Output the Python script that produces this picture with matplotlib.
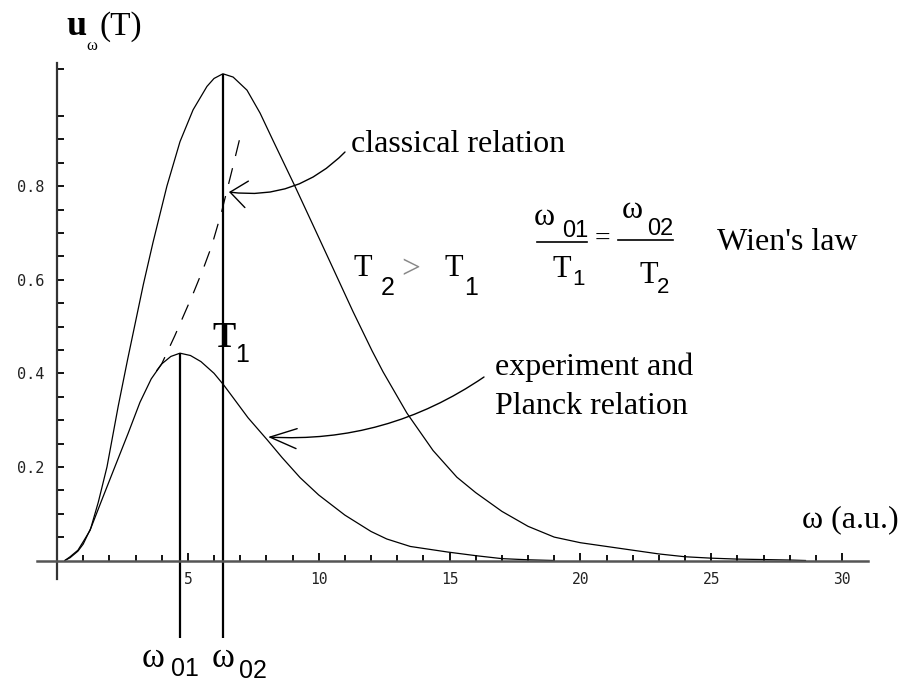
import numpy as np
import matplotlib
matplotlib.use("Agg")
import matplotlib.pyplot as plt
from matplotlib.ticker import FixedLocator

# ---- data ----
omega_T2 = [0.3, 0.5, 0.8, 1.0, 1.27, 1.58, 1.91, 2.34, 2.7, 3.0, 3.3, 3.67, 4.2, 4.7, 5.2, 5.73,
            6.0, 6.34, 6.73, 7.26, 7.76, 8.25, 8.79, 9.09, 9.78, 10.55, 11.31, 12.04, 12.46, 13.37,
            14.37, 15.28, 16.0, 17.0, 18.0, 19.0, 20.0, 21.0, 22.0, 23.0, 24.0, 25.0, 26.0, 27.0,
            28.0, 28.6]
u_T2 = [0.0, 0.008, 0.022, 0.04, 0.065, 0.125, 0.2, 0.33, 0.43, 0.51, 0.59, 0.68, 0.80, 0.895,
        0.963, 1.013, 1.03, 1.04, 1.033, 1.005, 0.956, 0.898, 0.835, 0.80, 0.717, 0.624, 0.532,
        0.448, 0.403, 0.315, 0.235, 0.178, 0.145, 0.105, 0.073, 0.05, 0.038, 0.03, 0.022, 0.014,
        0.008, 0.005, 0.003, 0.002, 0.001, 0.0]

omega_T1 = [0.3, 0.5, 0.8, 1.0, 1.3, 1.71, 2.21, 2.72, 3.17, 3.6, 4.0, 4.35, 4.7, 5.1, 5.5, 6.0,
            6.37, 6.73, 7.3, 8.03, 8.6, 9.29, 10.0, 11.0, 12.0, 12.6, 13.5, 14.94, 16.05, 17.0,
            18.0, 19.0]
u_T1 = [0.0, 0.006, 0.02, 0.035, 0.07, 0.129, 0.2, 0.272, 0.338, 0.388, 0.42, 0.436, 0.443, 0.438,
        0.425, 0.40, 0.375, 0.348, 0.305, 0.258, 0.22, 0.177, 0.14, 0.097, 0.062, 0.046, 0.03,
        0.018, 0.01, 0.004, 0.0015, 0.0]

omega_classical = [3.8, 4.0, 4.5, 4.85, 5.2, 5.6, 5.91, 6.29, 6.67, 7.02]
u_classical = [0.405, 0.42, 0.48, 0.525, 0.57, 0.625, 0.672, 0.745, 0.83, 0.91]

omega_peaks = [4.70, 6.35]
u_peaks = [0.443, 1.04]
peak_line_bottom = -0.166

x_major = [5, 10, 15, 20, 25, 30]
x_minor = [v for v in range(1, 30) if v % 5 != 0]
y_major = [0.2, 0.4, 0.6, 0.8]
y_minor = [round(0.05 * k, 2) for k in range(1, 22) if k % 4 != 0]

W, H = 905, 684
fig = plt.figure(figsize=(W / 100, H / 100), dpi=100)
ax = fig.add_axes([0, 0, 1, 1])

# pixel mapping of reference: px = 57 + 26.17*w ; py = 560.5 - 468*u
sx, x0 = 26.17, 57.0
sy, y0 = 468.0, 560.5
ax.set_xlim(-x0 / sx, (W - x0) / sx)
ax.set_ylim((y0 - H) / sy, y0 / sy)

lw = 0.9
ax.plot(omega_T2, u_T2, color="black", lw=lw)
ax.plot(omega_T1, u_T1, color="black", lw=lw)
ax.plot(omega_classical, u_classical, color="black", lw=lw, ls=(0, (13, 10)))
ax.vlines(omega_peaks, peak_line_bottom, u_peaks, color="black", lw=1.6, clip_on=False)

for s in ["top", "right"]:
    ax.spines[s].set_visible(False)
ax.spines["left"].set_position(("data", 0))
ax.spines["bottom"].set_position(("data", 0))
ax.spines["bottom"].set_bounds(-0.75, 31.0)
ax.spines["left"].set_bounds(-0.04, 1.063)
ax.spines["left"].set_linewidth(1.6)
ax.spines["bottom"].set_linewidth(1.8)
ax.spines["left"].set_color("#333333")
ax.spines["bottom"].set_color("#555555")

ax.xaxis.set_major_locator(FixedLocator(x_major))
ax.xaxis.set_minor_locator(FixedLocator(x_minor))
ax.yaxis.set_major_locator(FixedLocator(y_major))
ax.yaxis.set_minor_locator(FixedLocator(y_minor))
ax.tick_params(axis="both", which="both", direction="in", color="black", width=1.3)
ax.tick_params(axis="x", which="major", length=6, pad=8)
ax.tick_params(axis="x", which="minor", length=4)
ax.tick_params(axis="y", which="major", length=5, pad=9)
ax.tick_params(axis="y", which="minor", length=5)
ax.set_xticklabels([str(v) for v in x_major], family="DejaVu Sans Mono", fontsize=10.5,
                   color="#222222")
ax.set_yticklabels(["0.2", "0.4", "0.6", "0.8"], family="DejaVu Sans Mono", fontsize=11,
                   color="#222222")

SERIF = "Liberation Serif"
NARROW = ["Liberation Sans Narrow", "Liberation Sans"]


def ftxt(px, py, s, **kw):
    kw.setdefault("va", "baseline")
    fig.text(px / W, 1 - py / H, s, **kw)


# y-axis title u_ω(T)
ftxt(66, 35, "u", family=SERIF, fontsize=26, fontweight="bold")
ftxt(86, 50, "ω", family=SERIF, fontsize=12)
ftxt(99, 35, "(T)", family=SERIF, fontsize=24)

# x-axis title
ftxt(802, 527, "ω (a.u.)", family=SERIF, fontsize=23)

# omega_01 / omega_02 labels
ftxt(142, 667, "ω", family=SERIF, fontsize=25)
ftxt(171, 676, "01", family=NARROW, fontsize=18)
ftxt(212, 667, "ω", family=SERIF, fontsize=25)
ftxt(239, 678, "02", family=NARROW, fontsize=18)

# T1 label near line
ftxt(212, 347, "T", family=SERIF, fontsize=25, fontweight="bold")
ftxt(235, 362, "1", family=NARROW, fontsize=18)

# T2 > T1
ftxt(353, 276, "T", family=SERIF, fontsize=22)
ftxt(381, 295, "2", family=NARROW, fontsize=18)
ftxt(401, 278, ">", family=SERIF, fontsize=24, color="#888888")
ftxt(444, 276, "T", family=SERIF, fontsize=22)
ftxt(464, 295, "1", family=NARROW, fontsize=18)

# Wien fraction
ftxt(534, 225, "ω", family=SERIF, fontsize=23)
ftxt(562, 237, "01", family=NARROW, fontsize=17)
ftxt(552, 277, "T", family=SERIF, fontsize=22)
ftxt(572, 285, "1", family=NARROW, fontsize=16)
ftxt(595, 246, "=", family=SERIF, fontsize=20)
ftxt(622, 218, "ω", family=SERIF, fontsize=23)
ftxt(647, 235, "02", family=NARROW, fontsize=17)
ftxt(639, 283, "T", family=SERIF, fontsize=22)
ftxt(657, 293, "2", family=NARROW, fontsize=16)
fig.add_artist(plt.Line2D([537 / W, 587 / W], [1 - 242 / H, 1 - 242 / H], color="black", lw=1.2))
fig.add_artist(plt.Line2D([618 / W, 673 / W], [1 - 240 / H, 1 - 240 / H], color="black", lw=1.2))
ftxt(717, 250, "Wien's law", family=SERIF, fontsize=23)

# annotations
ftxt(351, 152, "classical relation", family=SERIF, fontsize=23)
ftxt(495, 375, "experiment and", family=SERIF, fontsize=23)
ftxt(495, 414, "Planck relation", family=SERIF, fontsize=23)


def px2d(px, py):
    return ((px - x0) / sx, (y0 - py) / sy)


ax.annotate("", xy=px2d(229, 192), xytext=px2d(345, 152),
            arrowprops=dict(arrowstyle="->,head_length=1.0,head_width=0.8", lw=1.0,
                            color="black", shrinkA=0, shrinkB=0,
                            connectionstyle="arc3,rad=-0.25", mutation_scale=12))
ax.annotate("", xy=px2d(268, 437), xytext=px2d(484, 377),
            arrowprops=dict(arrowstyle="->,head_length=1.6,head_width=0.6", lw=1.0,
                            color="black", shrinkA=0, shrinkB=0,
                            connectionstyle="arc3,rad=-0.17", mutation_scale=12))

fig.savefig("out.png", dpi=100)
